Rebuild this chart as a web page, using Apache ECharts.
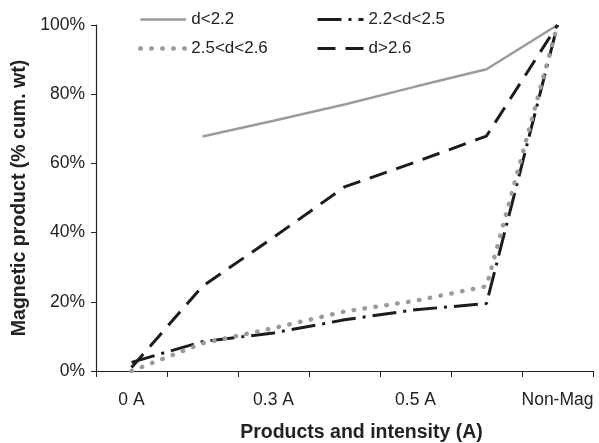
<!DOCTYPE html>
<html>
<head>
<meta charset="utf-8">
<script src="https://cdn.jsdelivr.net/npm/echarts@6/dist/echarts.min.js"></script>
<style>
  html, body { margin: 0; padding: 0; background: #fff; }
  #chart { width: 599px; height: 443px; }
</style>
</head>
<body>
<div id="chart"></div>
<script>
// x categories (only every other one is labelled)
const categories = ['0 A', '', '0.3 A', '', '0.5 A', '', 'Non-Mag']
// cumulative wt % per density class
const dLow = [null, 67.8, 72.3, 77.0, 82.2, 87.2, 100]
const dMidLow = [2.5, 8.5, 11.0, 14.8, 17.7, 19.5, 100]
const dMidHigh = [0, 8.0, 12.4, 17.2, 20.3, 24.5, 100]
const dHigh = [1.0, 24.5, 38.6, 53.2, 60.4, 67.9, 100]

const font = '"Liberation Sans", Arial, sans-serif'
const grey = '#9b9b9b'
const black = '#1c1c1c'

const styles = {
  'd<2.2': { color: grey, width: 2.5, type: 'solid', cap: 'butt' },
  '2.2<d<2.5': { color: black, width: 3, type: [24, 7, 3, 7], cap: 'butt' },
  '2.5<d<2.6': { color: grey, width: 4.5, type: [0.5, 10.5], cap: 'round' },
  'd>2.6': { color: black, width: 3, type: [18, 10], cap: 'butt' }
}

// legend entry: line only, hide the symbol
function legendItem(name) {
  return {
    name: name,
    itemStyle: { color: 'transparent', borderWidth: 0 },
    lineStyle: styles[name]
  }
}

let chart = echarts.init(document.getElementById('chart'))
chart.setOption({
  backgroundColor: '#fff',
  animation: false,
  textStyle: { fontFamily: font },
  legend: [
    {
      data: [legendItem('d<2.2'), legendItem('2.5<d<2.6')],
      orient: 'vertical',
      left: 133, top: 6,
      itemWidth: 46, itemHeight: 14, itemGap: 12,
      textStyle: { fontSize: 17, color: '#222', fontFamily: font }
    },
    {
      data: [legendItem('2.2<d<2.5'), legendItem('d>2.6')],
      orient: 'vertical',
      left: 311, top: 6,
      itemWidth: 46, itemHeight: 14, itemGap: 12,
      textStyle: { fontSize: 17, color: '#222', fontFamily: font }
    }
  ],
  grid: { left: 96, right: 6, top: 25, bottom: 72, containLabel: false, outerBoundsMode: 'none' },
  xAxis: {
    type: 'category',
    data: categories,
    boundaryGap: true,
    name: 'Products and intensity (A)',
    nameLocation: 'middle',
    nameGap: 52,
    nameTextStyle: { fontSize: 19.5, fontWeight: 'bold', color: '#222', padding: [0, 0, 0, 34] },
    axisLine: { lineStyle: { color: '#222', width: 1.2 } },
    axisTick: { show: true, length: 6, interval: 0, lineStyle: { color: '#222' } },
    axisLabel: { interval: 0, margin: 20, fontSize: 17.5, color: '#222' }
  },
  yAxis: {
    type: 'value',
    min: 0, max: 100, interval: 20,
    name: 'Magnetic product (% cum. wt)',
    nameLocation: 'middle',
    nameGap: 54,
    nameTextStyle: { fontSize: 19.5, fontWeight: 'bold', color: '#222' },
    axisLine: { show: true, lineStyle: { color: '#222', width: 1.2 } },
    axisTick: { show: true, length: 5, lineStyle: { color: '#222' } },
    axisLabel: { margin: 11, fontSize: 17.5, color: '#222', formatter: '{value}%' },
    splitLine: { show: false }
  },
  series: [
    { name: 'd<2.2', type: 'line', data: dLow, symbol: 'none',
      itemStyle: { color: grey }, lineStyle: styles['d<2.2'] },
    { name: '2.2<d<2.5', type: 'line', data: dMidLow, symbol: 'none',
      itemStyle: { color: black }, lineStyle: styles['2.2<d<2.5'] },
    { name: '2.5<d<2.6', type: 'line', data: dMidHigh, symbol: 'none',
      itemStyle: { color: grey }, lineStyle: styles['2.5<d<2.6'] },
    { name: 'd>2.6', type: 'line', data: dHigh, symbol: 'none',
      itemStyle: { color: black }, lineStyle: styles['d>2.6'] }
  ]
})
</script>
</body>
</html>
